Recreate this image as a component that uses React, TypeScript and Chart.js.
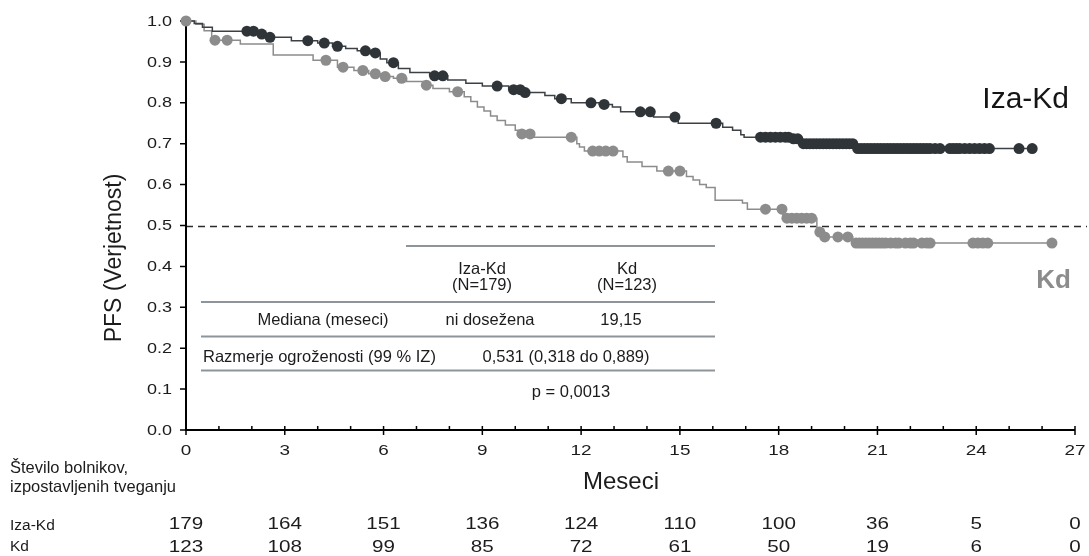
import React, { useEffect, useRef } from "react";
import { Chart, registerables } from "chart.js";

Chart.register(...registerables);

// ---------- data ----------
const xTickLabels = [0, 3, 6, 9, 12, 15, 18, 21, 24, 27];
const yTickLabels = [0, 0.1, 0.2, 0.3, 0.4, 0.5, 0.6, 0.7, 0.8, 0.9, 1.0];
const xMax = 27;
const minorStep = 1;

const izaEventTimes = [0, 0.25, 0.5, 0.8, 2.2, 2.45, 3.2, 4.0, 4.45, 4.85, 5.2, 5.6, 5.9, 6.1, 6.45, 6.8, 7.4, 7.95, 8.5, 9.0, 9.8, 10.2, 10.9, 11.2, 11.7, 12.55, 12.95, 13.2, 14.2, 14.95, 16.3, 16.6, 16.85, 16.95, 18.4, 18.65, 20.3];
const izaEventSurv = [1.0, 0.994, 0.985, 0.975, 0.968, 0.96, 0.952, 0.946, 0.938, 0.933, 0.927, 0.922, 0.907, 0.898, 0.884, 0.874, 0.866, 0.856, 0.848, 0.841, 0.832, 0.825, 0.818, 0.81, 0.80, 0.796, 0.79, 0.778, 0.765, 0.75, 0.74, 0.733, 0.722, 0.716, 0.712, 0.70, 0.688];
const izaEndTime = 25.7;
const izaCensorTimes = [1.85, 2.05, 2.3, 2.55, 3.7, 4.2, 4.6, 5.45, 5.75, 6.3, 7.55, 7.8, 9.45, 9.95, 10.15, 10.3, 11.4, 12.3, 12.7, 13.8, 14.1, 14.85, 16.1, 17.45, 17.6, 17.75, 17.9, 18.05, 18.2, 18.3, 18.45, 18.58, 18.75, 18.85, 18.95, 19.05, 19.15, 19.25, 19.35, 19.45, 19.55, 19.65, 19.75, 19.85, 19.95, 20.05, 20.15, 20.25, 20.4, 20.5, 20.6, 20.7, 20.8, 20.9, 21.0, 21.1, 21.2, 21.3, 21.4, 21.5, 21.6, 21.7, 21.8, 21.9, 22.0, 22.1, 22.2, 22.3, 22.4, 22.5, 22.6, 22.75, 22.9, 23.2, 23.3, 23.4, 23.5, 23.65, 23.8, 23.95, 24.1, 24.25, 24.4, 25.3, 25.7];

const kdEventTimes = [0, 0.3, 0.55, 0.78, 1.65, 2.65, 3.86, 4.6, 5.1, 5.55, 5.95, 6.3, 6.7, 7.2, 7.5, 8.0, 8.45, 8.65, 8.85, 9.05, 9.25, 9.45, 9.7, 10.0, 10.1, 10.55, 11.87, 11.95, 12.1, 13.27, 13.4, 13.85, 14.3, 15.2, 15.4, 15.6, 15.8, 16.07, 16.9, 17.05, 18.13, 19.16, 19.22, 19.3, 20.25];
const kdEventSurv = [1.0, 0.992, 0.976, 0.953, 0.944, 0.917, 0.904, 0.887, 0.879, 0.871, 0.864, 0.86, 0.852, 0.843, 0.835, 0.827, 0.815, 0.803, 0.79, 0.78, 0.768, 0.757, 0.746, 0.733, 0.724, 0.716, 0.70, 0.692, 0.682, 0.668, 0.655, 0.644, 0.633, 0.62, 0.611, 0.60, 0.593, 0.562, 0.555, 0.54, 0.518, 0.495, 0.484, 0.472, 0.457];
const kdEndTime = 26.3;
const kdCensorTimes = [0, 0.88, 1.25, 4.25, 4.77, 5.37, 5.75, 6.05, 6.55, 7.3, 8.25, 10.2, 10.45, 11.7, 12.35, 12.55, 12.75, 12.97, 14.65, 15.0, 17.6, 18.1, 18.25, 18.4, 18.55, 18.7, 18.85, 19.0, 19.25, 19.4, 19.8, 20.1, 20.35, 20.45, 20.55, 20.65, 20.75, 20.85, 20.95, 21.05, 21.15, 21.25, 21.4, 21.55, 21.65, 21.85, 22.0, 22.1, 22.35, 22.5, 22.6, 23.9, 24.05, 24.2, 24.35, 26.3];

const riskIza = [179, 164, 151, 136, 124, 110, 100, 36, 5, 0];
const riskKd = [123, 108, 99, 85, 72, 61, 50, 19, 6, 0];
const medianLevel = 0.5;

const seriesNames = ["Iza-Kd", "Kd"];
const yTitle = "PFS (Verjetnost)";
const xTitle = "Meseci";
const riskTitle = ["Število bolnikov,", "izpostavljenih tveganju"];
const tableHeader = [["Iza-Kd", "(N=179)"], ["Kd", "(N=123)"]];
const tableRows = [
  ["Mediana (meseci)", "ni dosežena", "19,15"],
  ["Razmerje ogroženosti (99 % IZ)", "0,531 (0,318 do 0,889)"],
  ["p = 0,0013"],
];

// ---------- styling ----------
const FONT = "'Liberation Sans', Arial, Helvetica, sans-serif";
const DARK = "#2f3438";
const DARK_LINE = "#3c4145";
const GRAY = "#8c8c8c";
const TEXT = "#1c1c1c";
const RULE = "#8d959b";

function survAt(times: number[], surv: number[], t: number) {
  let s = surv[0];
  for (let i = 0; i < times.length; i++) if (times[i] <= t) s = surv[i];
  return s;
}
function curve(times: number[], surv: number[], end: number) {
  const pts = times.map((t, i) => ({ x: t, y: surv[i] }));
  pts.push({ x: end, y: surv[surv.length - 1] });
  return pts;
}
function censors(ct: number[], times: number[], surv: number[]) {
  return ct.map((t) => ({ x: t, y: survAt(times, surv, t) }));
}

function sText(ctx: CanvasRenderingContext2D, text: string, x: number, y: number, sx: number, align: CanvasTextAlign) {
  ctx.save();
  ctx.translate(x, y);
  ctx.scale(sx, 1);
  ctx.textAlign = align;
  ctx.fillText(text, 0, 0);
  ctx.restore();
}

const kmPlugin = {
  id: "kmDecor",
  beforeDatasetsDraw(chart: any) {
    const { ctx, chartArea } = chart;
    const xs = chart.scales.x;
    const ys = chart.scales.y;
    const { left, right, bottom, top } = chartArea;
    ctx.save();
    // dashed median line
    const yh = Math.round(ys.getPixelForValue(medianLevel)) + 0.5;
    ctx.strokeStyle = "#2a2a2a";
    ctx.lineWidth = 1.3;
    ctx.setLineDash([7, 5]);
    ctx.beginPath();
    ctx.moveTo(left, yh);
    ctx.lineTo(chart.width - 2, yh);
    ctx.stroke();
    ctx.setLineDash([]);
    // axes
    ctx.strokeStyle = "#000";
    ctx.lineWidth = 2;
    ctx.beginPath();
    ctx.moveTo(left, top);
    ctx.lineTo(left, bottom);
    ctx.lineTo(right, bottom);
    ctx.stroke();
    // y ticks
    ctx.lineWidth = 1.5;
    ctx.beginPath();
    yTickLabels.forEach((v) => {
      const py = ys.getPixelForValue(v);
      ctx.moveTo(left - 6, py);
      ctx.lineTo(left, py);
    });
    ctx.stroke();
    // x ticks (minor inward, major crossing)
    ctx.beginPath();
    for (let m = 0; m <= xMax; m += minorStep) {
      const px = xs.getPixelForValue(m);
      const major = xTickLabels.includes(m);
      ctx.moveTo(px, bottom - 4);
      ctx.lineTo(px, bottom + (major ? 5 : 0));
    }
    ctx.stroke();
    ctx.restore();
  },
  afterDraw(chart: any) {
    const { ctx, chartArea } = chart;
    const xs = chart.scales.x;
    const ys = chart.scales.y;
    const { left } = chartArea;
    ctx.save();
    ctx.fillStyle = TEXT;
    // y tick labels
    ctx.font = `15px ${FONT}`;
    ctx.textBaseline = "middle";
    yTickLabels.forEach((v) => {
      sText(ctx, v.toFixed(1), left - 14, ys.getPixelForValue(v) + 0.5, 1.2, "right");
    });
    // x tick labels
    ctx.textBaseline = "alphabetic";
    ctx.font = `15.5px ${FONT}`;
    xTickLabels.forEach((v) => {
      sText(ctx, String(v), xs.getPixelForValue(v), 455, 1.22, "center");
    });
    // axis titles
    ctx.font = `23px ${FONT}`;
    ctx.save();
    ctx.translate(121, 258);
    ctx.rotate(-Math.PI / 2);
    ctx.textAlign = "center";
    ctx.fillText(yTitle, 0, 0);
    ctx.restore();
    ctx.font = `24px ${FONT}`;
    ctx.textAlign = "center";
    ctx.fillText(xTitle, 621, 489);
    // risk table
    ctx.textAlign = "left";
    ctx.font = `16.5px ${FONT}`;
    ctx.fillText(riskTitle[0], 10, 473);
    ctx.fillText(riskTitle[1], 10, 491.5);
    ctx.font = `15.5px ${FONT}`;
    ctx.fillText(seriesNames[0], 10, 529.5);
    ctx.fillText(seriesNames[1], 10, 551);
    ctx.font = `16.5px ${FONT}`;
    xTickLabels.forEach((v, i) => {
      const px = xs.getPixelForValue(v);
      sText(ctx, String(riskIza[i]), px, 528.5, 1.25, "center");
      sText(ctx, String(riskKd[i]), px, 551.5, 1.25, "center");
    });
    // curve labels
    ctx.font = `30px ${FONT}`;
    ctx.textAlign = "right";
    ctx.fillStyle = "#151515";
    ctx.fillText(seriesNames[0], 1069, 107.5);
    ctx.font = `bold 26px ${FONT}`;
    ctx.fillStyle = GRAY;
    ctx.fillText(seriesNames[1], 1071, 288);
    // stats table
    ctx.strokeStyle = RULE;
    ctx.lineWidth = 2;
    const rule = (x0: number, x1: number, yy: number) => {
      ctx.beginPath();
      ctx.moveTo(x0, yy);
      ctx.lineTo(x1, yy);
      ctx.stroke();
    };
    rule(406, 715, 246);
    rule(201, 715, 302);
    rule(201, 715, 336.5);
    rule(201, 715, 370.5);
    ctx.fillStyle = TEXT;
    ctx.font = `16.5px ${FONT}`;
    ctx.textAlign = "center";
    ctx.fillText(tableHeader[0][0], 482, 273.5);
    ctx.fillText(tableHeader[0][1], 482, 290);
    ctx.fillText(tableHeader[1][0], 627, 273.5);
    ctx.fillText(tableHeader[1][1], 627, 290);
    ctx.fillText(tableRows[0][0], 323, 324.5);
    ctx.fillText(tableRows[0][1], 490, 324.5);
    ctx.fillText(tableRows[0][2], 621, 324.5);
    ctx.textAlign = "left";
    ctx.fillText(tableRows[1][0], 203, 361.5);
    ctx.textAlign = "center";
    ctx.fillText(tableRows[1][1], 566, 361.5);
    ctx.fillText(tableRows[2][0], 571, 397);
    ctx.restore();
  },
};

export default function App() {
  const ref = useRef<HTMLCanvasElement | null>(null);
  useEffect(() => {
    document.body.style.margin = "0";
    if (!ref.current) return;
    const chart = new Chart(ref.current, {
      type: "scatter",
      data: {
        datasets: [
          {
            type: "line",
            label: seriesNames[1] + " curve",
            data: curve(kdEventTimes, kdEventSurv, kdEndTime),
            stepped: "before",
            borderColor: GRAY,
            borderWidth: 1.5,
            pointRadius: 0,
            fill: false,
            clip: false,
            order: 4,
          } as any,
          {
            type: "line",
            label: seriesNames[0] + " curve",
            data: curve(izaEventTimes, izaEventSurv, izaEndTime),
            stepped: "before",
            borderColor: DARK_LINE,
            borderWidth: 1.5,
            pointRadius: 0,
            fill: false,
            clip: false,
            order: 3,
          } as any,
          {
            type: "scatter",
            label: seriesNames[1] + " censored",
            data: censors(kdCensorTimes, kdEventTimes, kdEventSurv),
            pointRadius: 5.5,
            pointBorderWidth: 0,
            pointBackgroundColor: GRAY,
            borderColor: GRAY,
            clip: false,
            order: 2,
          } as any,
          {
            type: "scatter",
            label: seriesNames[0] + " censored",
            data: censors(izaCensorTimes, izaEventTimes, izaEventSurv),
            pointRadius: 5.5,
            pointBorderWidth: 0,
            pointBackgroundColor: DARK,
            borderColor: DARK,
            clip: false,
            order: 1,
          } as any,
        ],
      },
      options: {
        animation: false,
        responsive: false,
        events: [],
        layout: { padding: { left: 186, right: 14, top: 21, bottom: 126 } },
        plugins: { legend: { display: false }, tooltip: { enabled: false } },
        scales: {
          x: { type: "linear", min: 0, max: xMax, display: false },
          y: { type: "linear", min: 0, max: 1, display: false },
        },
      },
      plugins: [kmPlugin],
    });
    return () => chart.destroy();
  }, []);
  return (
    <div style={{ width: 1089, height: 556, position: "relative" }}>
      <canvas ref={ref} width={1089} height={556} style={{ display: "block" }} />
    </div>
  );
}
